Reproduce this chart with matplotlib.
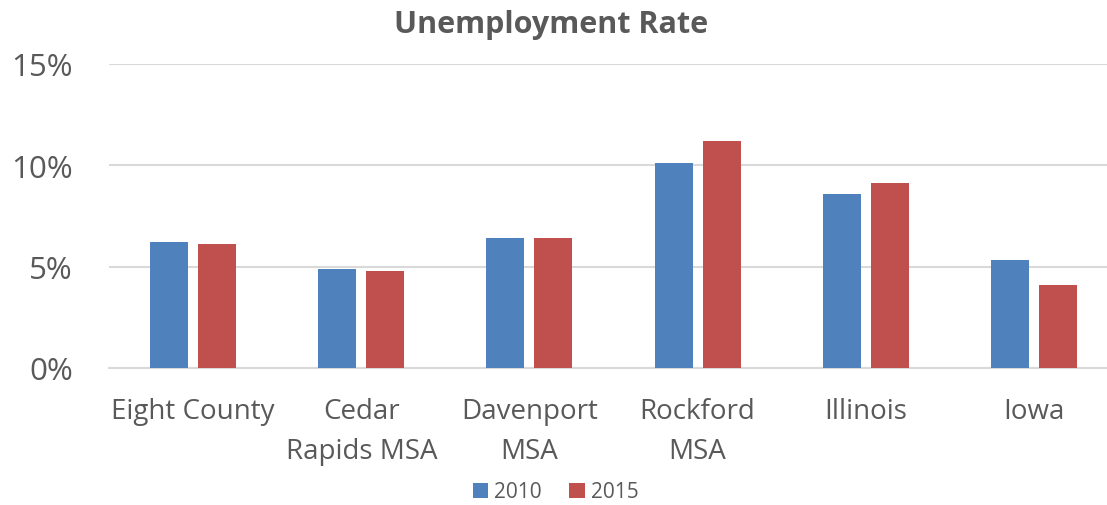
import matplotlib
matplotlib.use("Agg")
import matplotlib.pyplot as plt
import numpy as np
from matplotlib.ticker import FuncFormatter

categories = ["Eight County", "Cedar\nRapids MSA", "Davenport\nMSA", "Rockford\nMSA", "Illinois", "Iowa"]
rate_2010 = [6.2, 4.9, 6.4, 10.1, 8.6, 5.3]
rate_2015 = [6.1, 4.8, 6.4, 11.2, 9.1, 4.1]
series_labels = ["2010", "2015"]
yticks = [0, 5, 10, 15]

plt.rcParams['font.family'] = ['Open Sans', 'DejaVu Sans']
txt = '#595959'

fig = plt.figure(figsize=(11.07, 5.06), dpi=100)
W, H = 1107, 506
ax = fig.add_axes([109 / W, (H - 369) / H, 1009 / W, (369 - 64.7) / H])

x = np.arange(len(categories))
bw = 0.226
off = 0.1427
ax.bar(x - off, rate_2010, bw, color='#4F81BD', label=series_labels[0], zorder=3)
ax.bar(x + off, rate_2015, bw, color='#C0504D', label=series_labels[1], zorder=3)

ax.set_xlim(-0.5, len(categories) - 0.5)
ax.set_ylim(0, 15)
ax.set_yticks(yticks)
ax.yaxis.set_major_formatter(FuncFormatter(lambda v, p: f"{int(v)}%"))
ax.grid(axis='y', color='#D9D9D9', linewidth=1.5, zorder=0)
for s in ['top', 'right', 'left']:
    ax.spines[s].set_visible(False)
ax.spines['bottom'].set_color('#D9D9D9')
ax.spines['bottom'].set_linewidth(1.5)
ax.tick_params(axis='both', length=0, colors=txt)
ax.tick_params(axis='y', labelsize=22.5, pad=26)
ax.set_xticks(x)
ax.set_xticklabels(categories, fontsize=20, color=txt, linespacing=1.55)
ax.tick_params(axis='x', pad=21)
for lbl in ax.get_yticklabels():
    lbl.set_color(txt)

fig.text(0.498, 1 - 25 / H, "Unemployment Rate", ha='center', va='center',
         fontsize=22, fontweight='bold', color=txt)

leg = fig.legend(loc='center', bbox_to_anchor=(0.502, 1 - 493 / H), ncol=2, frameon=False,
                 fontsize=15, handlelength=0.75, handleheight=0.75, handletextpad=0.3,
                 columnspacing=1.3)
for t in leg.get_texts():
    t.set_color(txt)

fig.savefig("out.png", dpi=100)
